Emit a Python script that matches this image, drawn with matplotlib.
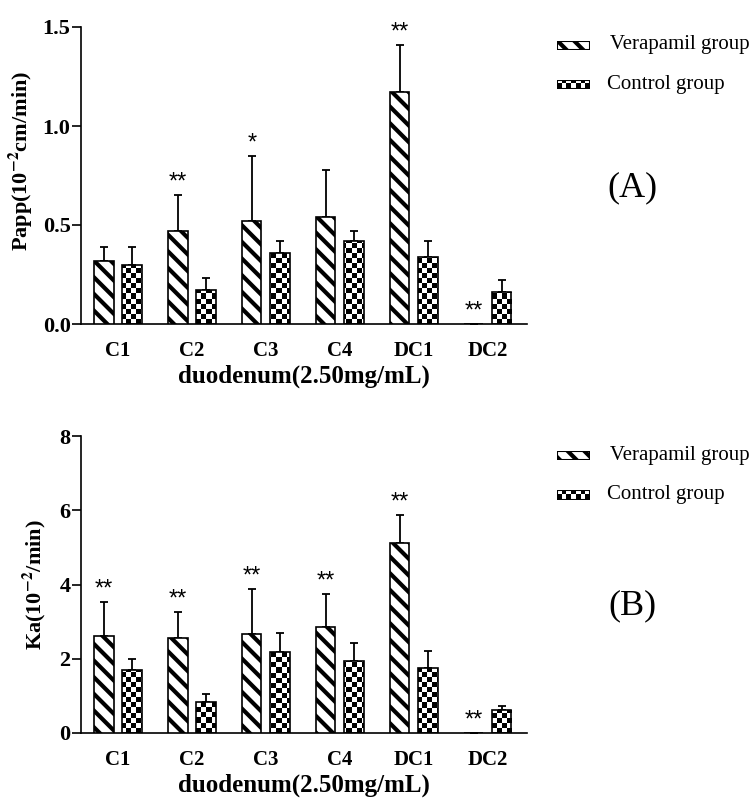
import numpy as np
import matplotlib
matplotlib.use("Agg")
import matplotlib.pyplot as plt
from matplotlib.patches import Rectangle

plt.rcParams['font.family'] = ['Liberation Serif', 'DejaVu Serif']
plt.rcParams['mathtext.fontset'] = 'stix'
plt.rcParams['hatch.linewidth'] = 3.0

# data
groups = ['C1', 'C2', 'C3', 'C4', 'DC1', 'DC2']

papp_vera = [0.32, 0.47, 0.52, 0.54, 1.17, 0.0]
papp_vera_err = [0.07, 0.18, 0.33, 0.24, 0.24, 0.0]
papp_ctrl = [0.30, 0.17, 0.36, 0.42, 0.34, 0.16]
papp_ctrl_err = [0.09, 0.06, 0.06, 0.05, 0.08, 0.06]
papp_stars = ['', '**', '*', '', '**', '**']

ka_vera = [2.62, 2.56, 2.68, 2.85, 5.13, 0.0]
ka_vera_err = [0.91, 0.71, 1.20, 0.90, 0.75, 0.0]
ka_ctrl = [1.70, 0.84, 2.18, 1.94, 1.76, 0.61]
ka_ctrl_err = [0.30, 0.20, 0.52, 0.49, 0.44, 0.13]
ka_stars = ['**', '**', '**', '**', '**', '**']

fig = plt.figure(figsize=(7.52, 8.01), dpi=100)

W = 0.26
OFF = 0.19
CELL = 5.0  # checker cell in pixels
HATCH = '\\\\'


def checker(ny, nx):
    return (np.indices((ny, nx)).sum(axis=0) % 2).astype(float)


def panel(rect, vera, vera_err, ctrl, ctrl_err, stars, ylim, yticks, yfmt, ylabel, lab_x, lab_y):
    ax = fig.add_axes(rect)
    x = np.arange(len(groups))
    xlim = (-0.5, 5.53)
    ax.set_xlim(xlim)
    ax.set_ylim(ylim)

    ax.bar(x - OFF, vera, W, yerr=[np.zeros(6), vera_err], color='white',
           edgecolor='black', linewidth=1.2, hatch=HATCH, zorder=3,
           error_kw=dict(ecolor='black', elinewidth=1.3, capsize=3, capthick=1.3, zorder=2))
    cbars = ax.bar(x + OFF, ctrl, W, yerr=[np.zeros(6), ctrl_err], color='white',
                   edgecolor='none', zorder=2,
                   error_kw=dict(ecolor='black', elinewidth=1.3, capsize=3, capthick=1.3, zorder=2))

    # checkerboard fill clipped to each control bar
    fig.canvas.draw()
    bb = ax.get_window_extent()
    img = checker(int(bb.height / CELL), int(bb.width / CELL))
    for b in cbars:
        im = ax.imshow(img, extent=(xlim[0], xlim[1], ylim[0], ylim[1]), aspect='auto',
                       cmap='binary', vmin=0, vmax=1, interpolation='nearest', zorder=2.5)
        im.set_clip_path(b)
    ax.bar(x + OFF, ctrl, W, color='none', edgecolor='black', linewidth=1.2, zorder=3)
    ax.set_xlim(xlim)
    ax.set_ylim(ylim)

    for i, s in enumerate(stars):
        if s:
            ax.annotate(s, (x[i] - OFF, vera[i] + vera_err[i]), xytext=(0, 1),
                        textcoords='offset points', ha='center', va='bottom',
                        fontsize=17, family='Liberation Sans')

    for sp in ['top', 'right']:
        ax.spines[sp].set_visible(False)
    for sp in ['left', 'bottom']:
        ax.spines[sp].set_linewidth(1.2)
    ax.set_yticks(yticks)
    ax.set_yticklabels([yfmt.format(v) for v in yticks], fontsize=16, fontweight='bold')
    ax.tick_params(axis='y', length=6.5, width=1.2, pad=1)
    ax.set_xticks(x)
    ax.set_xticklabels(groups, fontsize=15, fontweight='bold')
    ax.tick_params(axis='x', length=0, pad=12)
    ax.set_xlabel('duodenum(2.50mg/mL)', fontsize=18, fontweight='bold', labelpad=3)
    ax.set_ylabel(ylabel, fontsize=16, fontweight='bold')
    ax.yaxis.set_label_coords(lab_x, lab_y)
    return ax


def legend(y_v, y_c):
    # swatches in pixel positions converted to figure fractions
    sw_x, sw_w, sw_h = 557 / 752, 33 / 752, 9 / 801
    a1 = fig.add_axes([sw_x, 1 - (y_v + 4.5) / 801, sw_w, sw_h])
    a1.add_patch(Rectangle((0, 0), 1, 1, facecolor='white', edgecolor='black',
                           linewidth=1.5, hatch=HATCH, transform=a1.transAxes))
    a1.set_axis_off()
    a2 = fig.add_axes([sw_x, 1 - (y_c + 4.5) / 801, sw_w, sw_h])
    a2.imshow(checker(2, 7), cmap='binary', vmin=0, vmax=1, aspect='auto',
              interpolation='nearest', extent=(0, 1, 0, 1))
    a2.add_patch(Rectangle((0, 0), 1, 1, fill=False, edgecolor='black', linewidth=1.5))
    a2.set_xlim(0, 1)
    a2.set_ylim(0, 1)
    a2.set_axis_off()
    fig.text(605 / 752, 1 - y_v / 801, ' Verapamil group', fontsize=15, va='center')
    fig.text(607 / 752, 1 - y_c / 801, 'Control group', fontsize=15, va='center')


panel([81 / 752, 1 - 324 / 801, 446 / 752, 297 / 801],
      papp_vera, papp_vera_err, papp_ctrl, papp_ctrl_err, papp_stars,
      (0, 1.5), [0.0, 0.5, 1.0, 1.5], '{:.1f}', 'Papp(10$^{\\mathbf{-2}}$cm/min)', -0.103, 0.55)
panel([81 / 752, 1 - 733 / 801, 446 / 752, 297 / 801],
      ka_vera, ka_vera_err, ka_ctrl, ka_ctrl_err, ka_stars,
      (0, 8), [0, 2, 4, 6, 8], '{:d}', 'Ka(10$^{\\mathbf{-2}}$/min)', -0.075, 0.5)

legend(45, 84)
legend(456, 495)

fig.text(632 / 752, 1 - 188 / 801, '(A)', fontsize=26, ha='center', va='center')
fig.text(632 / 752, 1 - 606 / 801, '(B)', fontsize=26, ha='center', va='center')

fig.savefig('out.png', dpi=100)
